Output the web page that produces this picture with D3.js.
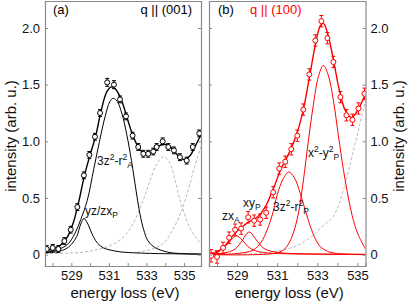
<!DOCTYPE html>
<html>
<head>
<meta charset="utf-8">
<script src="https://cdn.jsdelivr.net/npm/d3@7"></script>
<style>
body { margin: 0; background: #fff; }
text { font-family: "Liberation Sans", Arial, sans-serif; }
</style>
</head>
<body>
<script>
var w = 411;
var h = 302;

// panel (a), q || (001): measured points [energy, intensity, error]
var pointsA = [
    [527.69, 0.05, 0.03], [528.01, 0.06, 0.03], [528.31, 0.05, 0.03], [528.63, 0.12, 0.03],
    [528.97, 0.22, 0.03], [529.32, 0.42, 0.03], [529.67, 0.70, 0.03], [529.96, 0.88, 0.03],
    [530.26, 1.04, 0.03], [530.53, 1.25, 0.03], [530.91, 1.52, 0.035], [531.27, 1.50, 0.035],
    [531.59, 1.37, 0.03], [531.91, 1.22, 0.03], [532.26, 1.05, 0.03], [532.56, 0.95, 0.03],
    [532.83, 0.89, 0.03], [533.09, 0.89, 0.03], [533.36, 0.91, 0.03], [533.54, 0.95, 0.03],
    [533.86, 1.00, 0.03], [534.16, 0.95, 0.03], [534.46, 0.92, 0.03], [534.78, 0.86, 0.03],
    [535.14, 0.83, 0.03], [535.46, 0.95, 0.03], [535.81, 1.07, 0.03]
];
var fitA = [
    [527.6, 0.03], [528.0, 0.05], [528.4, 0.08], [528.8, 0.16], [529.1, 0.28], [529.4, 0.47],
    [529.7, 0.70], [530.0, 0.88], [530.3, 1.05], [530.6, 1.28], [530.9, 1.44], [531.15, 1.48],
    [531.4, 1.45], [531.7, 1.35], [532.0, 1.19], [532.3, 1.04], [532.6, 0.94], [532.9, 0.89],
    [533.2, 0.90], [533.5, 0.94], [533.8, 0.97], [534.1, 0.97], [534.4, 0.93], [534.7, 0.87],
    [535.0, 0.84], [535.3, 0.87], [535.6, 0.96], [535.9, 1.06]
];
var z2A = [
    [527.6, 0.02], [528.2, 0.04], [528.8, 0.09], [529.2, 0.19], [529.5, 0.31], [529.85, 0.48],
    [530.2, 0.76], [530.5, 1.00], [530.8, 1.22], [531.05, 1.35], [531.23, 1.38], [531.45, 1.35],
    [531.7, 1.24], [531.95, 1.06], [532.2, 0.83], [532.45, 0.56], [532.65, 0.36], [532.85, 0.22],
    [533.05, 0.13], [533.3, 0.08], [533.6, 0.05], [534.2, 0.02], [534.8, 0.01], [535.9, 0.005]
];
var yzA = [
    [527.6, 0.015], [528.2, 0.025], [528.7, 0.05], [529.0, 0.09], [529.29, 0.16], [529.5, 0.27],
    [529.67, 0.32], [529.85, 0.28], [530.17, 0.16], [530.4, 0.1], [530.7, 0.06], [531.1, 0.04],
    [531.6, 0.025], [532.5, 0.015], [533.5, 0.01], [535.9, 0.005]
];
var bgA1 = [
    [527.6, 0.01], [529.5, 0.02], [530.5, 0.05], [531.2, 0.09], [531.8, 0.16], [532.3, 0.28],
    [532.8, 0.47], [533.2, 0.66], [533.55, 0.80], [533.89, 0.865], [534.2, 0.82], [534.55, 0.64],
    [534.8, 0.47], [535.0, 0.37], [535.3, 0.24], [535.6, 0.16], [535.9, 0.10]
];
var bgA2 = [
    [532.5, 0.02], [533.3, 0.05], [533.9, 0.1], [534.4, 0.22], [534.8, 0.36], [535.0, 0.45],
    [535.2, 0.56], [535.55, 0.77], [535.9, 0.95]
];

// panel (b), q || (100)
var pointsB = [
    [527.7, -0.01, 0.055], [528.0, -0.02, 0.055], [528.3, 0.06, 0.05], [528.6, 0.15, 0.05],
    [528.9, 0.22, 0.05], [529.2, 0.23, 0.05], [529.55, 0.33, 0.05], [529.85, 0.30, 0.05],
    [530.15, 0.31, 0.05], [530.45, 0.37, 0.05], [530.8, 0.55, 0.05], [531.1, 0.76, 0.05],
    [531.4, 0.82, 0.05], [531.7, 0.93, 0.05], [532.0, 1.05, 0.05], [532.3, 1.28, 0.05],
    [532.6, 1.59, 0.05], [532.9, 1.89, 0.05], [533.2, 2.06, 0.05], [533.5, 1.91, 0.05],
    [533.8, 1.70, 0.05], [534.15, 1.39, 0.05], [534.45, 1.23, 0.05], [534.75, 1.19, 0.05],
    [535.05, 1.29, 0.05], [535.35, 1.42, 0.05]
];
var fitB = [
    [527.6, 0.0], [528.0, 0.02], [528.4, 0.08], [528.8, 0.17], [529.2, 0.24], [529.6, 0.29],
    [530.0, 0.33], [530.4, 0.42], [530.8, 0.58], [531.2, 0.76], [531.6, 0.90], [532.0, 1.08],
    [532.3, 1.28], [532.6, 1.56], [532.9, 1.85], [533.15, 2.02], [533.3, 2.04], [533.5, 1.96],
    [533.8, 1.72], [534.1, 1.45], [534.4, 1.27], [534.7, 1.21], [535.0, 1.27], [535.4, 1.42]
];
var zxB = [
    [527.6, 0.01], [528.0, 0.03], [528.4, 0.07], [528.7, 0.13], [528.98, 0.165], [529.25, 0.13],
    [529.55, 0.07], [529.9, 0.035], [530.5, 0.015], [531.5, 0.008], [535.4, 0.003]
];
var xyB = [
    [527.6, 0.005], [528.5, 0.02], [528.9, 0.05], [529.2, 0.11], [529.6, 0.20], [530.0, 0.12],
    [530.3, 0.06], [530.7, 0.03], [531.5, 0.012], [533.0, 0.005], [535.4, 0.002]
];
var z2B = [
    [527.6, 0.0], [529.0, 0.01], [529.8, 0.04], [530.2, 0.11], [530.5, 0.22], [530.8, 0.38],
    [531.0, 0.53], [531.3, 0.67], [531.57, 0.73], [531.85, 0.68], [532.15, 0.54], [532.4, 0.39],
    [532.65, 0.25], [532.9, 0.14], [533.15, 0.07], [533.5, 0.03], [534.0, 0.01], [535.4, 0.0]
];
var x2B = [
    [527.6, 0.0], [530.8, 0.01], [531.3, 0.04], [531.55, 0.09], [531.8, 0.19], [532.05, 0.36],
    [532.3, 0.65], [532.55, 1.0], [532.8, 1.32], [533.05, 1.57], [533.3, 1.67], [533.55, 1.58],
    [533.8, 1.36], [534.05, 1.05], [534.3, 0.75], [534.55, 0.5], [534.8, 0.3], [535.05, 0.17],
    [535.4, 0.05]
];
var bgB = [
    [527.6, 0.005], [530.0, 0.01], [531.0, 0.03], [532.0, 0.08], [532.65, 0.15], [533.2, 0.24],
    [533.8, 0.34], [534.3, 0.57], [534.8, 0.92], [535.1, 1.14], [535.4, 1.36]
];

var xTicks = [528, 529, 530, 531, 532, 533, 534, 535];
var yTicks = [0, 0.5, 1.0, 1.5, 2.0];

var svg = d3.select("body")
    .append("svg")
    .attr("width", w)
    .attr("height", h)
    .style("background", "#fff");

var yScale = d3.scaleLinear()
    .domain([-0.1, 2.238])
    .range([266, 1]);

var panels = [
    {id: "a", left: 45, right: 201, domain: [527.6, 535.9], color: "#000",
     points: pointsA, fit: fitA, comps: [z2A, yzA], dashed: [bgA1, bgA2], labelSide: "left"},
    {id: "b", left: 209, right: 365.5, domain: [527.6, 535.4], color: "#ff0000",
     points: pointsB, fit: fitB, comps: [zxB, xyB, z2B, x2B], dashed: [bgB], labelSide: "right"}
];

panels.forEach(function(p){
    var xScale = d3.scaleLinear().domain(p.domain).range([p.left, p.right]);

    svg.append("clipPath").attr("id", "clip" + p.id)
        .append("rect")
        .attr("x", p.left).attr("y", 1)
        .attr("width", p.right - p.left).attr("height", 265);

    var g = svg.append("g").attr("clip-path", "url(#clip" + p.id + ")");

    var line = d3.line()
        .x(function(d){ return xScale(d[0]); })
        .y(function(d){ return yScale(d[1]); })
        .curve(d3.curveCatmullRom.alpha(0.5));

    p.dashed.forEach(function(c){
        g.append("path").attr("d", line(c))
            .attr("fill", "none").attr("stroke", "#b0b0b0")
            .attr("stroke-width", 0.9).attr("stroke-dasharray", "3,2");
    });
    p.comps.forEach(function(c){
        g.append("path").attr("d", line(c))
            .attr("fill", "none").attr("stroke", p.color).attr("stroke-width", 1);
    });
    g.append("path").attr("d", line(p.fit))
        .attr("fill", "none").attr("stroke", p.color).attr("stroke-width", 1.4);

    // error bars
    var eb = g.selectAll(".eb").data(p.points).enter().append("g");
    eb.append("line")
        .attr("x1", function(d){ return xScale(d[0]); })
        .attr("x2", function(d){ return xScale(d[0]); })
        .attr("y1", function(d){ return yScale(d[1] - d[2]); })
        .attr("y2", function(d){ return yScale(d[1] + d[2]); })
        .attr("stroke", p.color).attr("stroke-width", 1);
    [-1, 1].forEach(function(s){
        eb.append("line")
            .attr("x1", function(d){ return xScale(d[0]) - 2; })
            .attr("x2", function(d){ return xScale(d[0]) + 2; })
            .attr("y1", function(d){ return yScale(d[1] + s * d[2]); })
            .attr("y2", function(d){ return yScale(d[1] + s * d[2]); })
            .attr("stroke", p.color).attr("stroke-width", 1);
    });
    g.selectAll("circle").data(p.points).enter().append("circle")
        .attr("cx", function(d){ return xScale(d[0]); })
        .attr("cy", function(d){ return yScale(d[1]); })
        .attr("r", 2.5)
        .attr("fill", "#fff")
        .attr("stroke", p.color)
        .attr("stroke-width", 1);

    // axes, ticks pointing inward
    var xAxis = d3.axisBottom(xScale).tickValues(xTicks).tickSize(-3).tickPadding(4.5)
        .tickFormat(function(d){ return d % 2 ? d : ""; });
    svg.append("g").attr("transform", "translate(0,266)").call(xAxis).call(styleAxis);
    svg.append("g").attr("transform", "translate(0,1)")
        .call(d3.axisTop(xScale).tickValues(xTicks).tickSize(0).tickFormat(""))
        .call(styleAxis);

    var fmt = function(d){ return d === 0 ? "0" : d3.format(".1f")(d); };
    var leftAxis = d3.axisLeft(yScale).tickValues(yTicks).tickSize(-3).tickPadding(5)
        .tickFormat(p.labelSide === "left" ? fmt : "");
    var rightAxis = d3.axisRight(yScale).tickValues(yTicks).tickSize(-3).tickPadding(5)
        .tickFormat(p.labelSide === "right" ? fmt : "");
    svg.append("g").attr("transform", "translate(" + p.left + ",0)").call(leftAxis).call(styleAxis);
    svg.append("g").attr("transform", "translate(" + p.right + ",0)").call(rightAxis).call(styleAxis);

    svg.append("text")
        .attr("x", (p.left + p.right) / 2 + 2)
        .attr("y", 297.5)
        .attr("text-anchor", "middle")
        .style("font-size", "15px")
        .attr("fill", "#111")
        .text("energy loss (eV)");
});

function styleAxis(sel){
    sel.select(".domain").attr("stroke", "#8a8a8a").attr("stroke-width", 1.2);
    sel.selectAll(".tick line").attr("stroke", "#8a8a8a");
    sel.selectAll(".tick text")
        .style("font-size", "13px")
        .style("font-family", "'Liberation Sans', Arial, sans-serif")
        .attr("fill", "#111");
}

// y titles
[16, 404].forEach(function(tx){
    svg.append("text")
        .attr("transform", "translate(" + tx + ",136) rotate(-90)")
        .attr("text-anchor", "middle")
        .style("font-size", "15px")
        .attr("fill", "#111")
        .text("intensity (arb. u.)");
});

// panel titles
svg.append("text").attr("x", 53).attr("y", 14).style("font-size", "13px").text("(a)");
svg.append("text").attr("x", 192).attr("y", 14).attr("text-anchor", "end")
    .style("font-size", "13px").text("q || (001)");
svg.append("text").attr("x", 218).attr("y", 14).style("font-size", "13px").text("(b)");
svg.append("text").attr("x", 250).attr("y", 14).style("font-size", "13px")
    .attr("fill", "#ff0000").text("q || (100)");

// component labels: [x, y, parts], part type n = normal, p = sup, b = sub
var compLabels = [
    [97, 165, [["3z", "n"], ["2", "p"], ["-r", "n"], ["2", "p"], ["A", "b"]]],
    [85, 215, [["yz/zx", "n"], ["P", "b"]]],
    [222, 220, [["zx", "n"], ["A", "b"]]],
    [243, 207, [["xy", "n"], ["P", "b"]]],
    [273, 211, [["3z", "n"], ["2", "p"], ["-r", "n"], ["2", "p"], ["P", "b"]]],
    [308, 157, [["x", "n"], ["2", "p"], ["-y", "n"], ["2", "p"], ["P", "b"]]]
];
var shift = {n: 0, p: -5, b: 3};
compLabels.forEach(function(l){
    var t = svg.append("text").attr("x", l[0]).attr("y", l[1])
        .style("font-size", "12px").attr("fill", "#111");
    var cur = 0;
    l[2].forEach(function(part){
        t.append("tspan")
            .attr("dy", shift[part[1]] - cur)
            .style("font-size", part[1] === "n" ? "12px" : "8.5px")
            .text(part[0]);
        cur = shift[part[1]];
    });
});
</script>
</body>
</html>
